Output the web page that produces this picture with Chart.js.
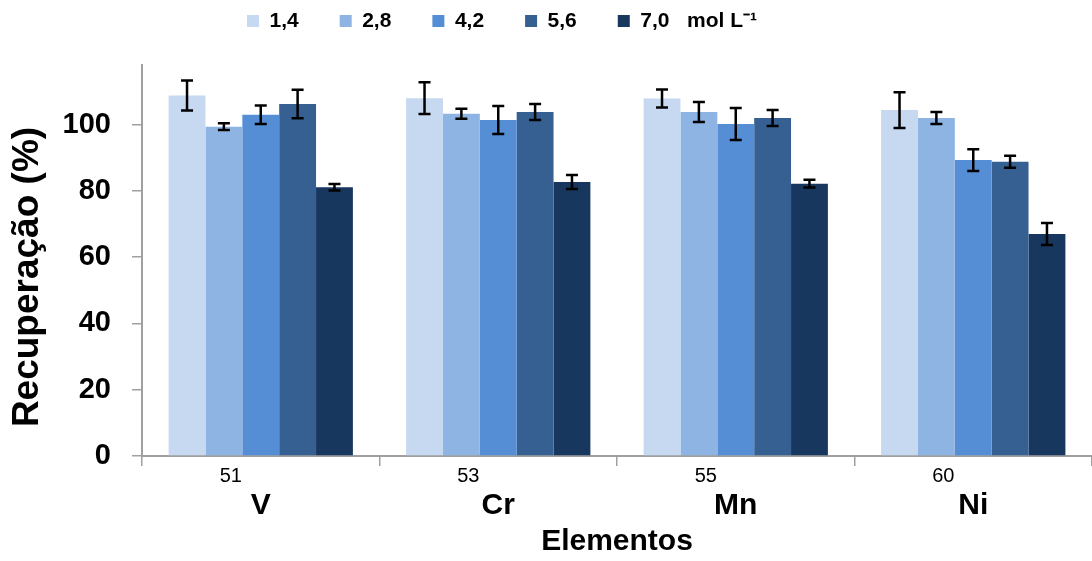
<!DOCTYPE html>
<html>
<head>
<meta charset="utf-8">
<script src="https://cdn.jsdelivr.net/npm/chart.js@4.4.0/dist/chart.umd.min.js"></script>
<style>
  html, body { margin: 0; padding: 0; background: #fff; }
  #wrap { width: 1092px; height: 561px; }
</style>
</head>
<body>
<div id="wrap"><canvas id="myChart"></canvas></div>
<script>
const elements = ["V", "Cr", "Mn", "Ni"];
const massNumbers = ["51", "53", "55", "60"];
const concentrations = ["1,4", "2,8", "4,2", "5,6", "7,0   mol L⁻¹"];
const yTicks = [0, 20, 40, 60, 80, 100];

// recovery (%) and error bar half-height per concentration
const rec14 = [108.8, 108.0, 107.9, 104.4];
const err14 = [4.5, 4.8, 2.7, 5.4];
const rec28 = [99.4, 103.3, 103.8, 102.0];
const err28 = [1.0, 1.5, 3.0, 1.8];
const rec42 = [103.0, 101.4, 100.2, 89.3];
const err42 = [2.8, 4.2, 4.8, 3.3];
const rec56 = [106.2, 103.8, 102.0, 88.8];
const err56 = [4.3, 2.4, 2.4, 1.8];
const rec70 = [81.1, 82.7, 82.2, 67.0];
const err70 = [1.0, 2.1, 1.2, 3.3];

const colors = ["#C6D9F1", "#8EB4E3", "#558ED5", "#366092", "#17375E"];
const axisColor = "#a0a0a0";

Chart.defaults.font.family = "'Liberation Sans', Arial, sans-serif";
Chart.defaults.color = "#000";

const errorBars = {
  id: "errorBars",
  afterDatasetsDraw(chart) {
    const ctx = chart.ctx;
    const y = chart.scales.y;
    ctx.save();
    ctx.strokeStyle = "#000";
    ctx.lineWidth = 2.5;
    chart.data.datasets.forEach((ds, i) => {
      chart.getDatasetMeta(i).data.forEach((bar, j) => {
        const top = y.getPixelForValue(ds.data[j] + ds.errors[j]);
        const bot = y.getPixelForValue(ds.data[j] - ds.errors[j]);
        ctx.beginPath();
        ctx.moveTo(bar.x, top);
        ctx.lineTo(bar.x, bot);
        ctx.moveTo(bar.x - 6, top);
        ctx.lineTo(bar.x + 6, top);
        ctx.moveTo(bar.x - 6, bot);
        ctx.lineTo(bar.x + 6, bot);
        ctx.stroke();
      });
    });
    ctx.restore();
  },
};

const extraText = {
  id: "extraText",
  afterDraw(chart) {
    const ctx = chart.ctx;
    const x = chart.scales.x;
    ctx.save();
    ctx.fillStyle = "#000";
    ctx.textAlign = "center";
    ctx.textBaseline = "middle";
    elements.forEach((el, i) => {
      const cx = x.getPixelForValue(i);
      ctx.font = "20px 'Liberation Sans', Arial, sans-serif";
      ctx.fillText(massNumbers[i], cx - 30, 476);
      ctx.font = "bold 30px 'Liberation Sans', Arial, sans-serif";
      ctx.fillText(el, cx, 506);
    });
    // y axis title
    ctx.translate(28, 277);
    ctx.rotate(-Math.PI / 2);
    ctx.font = "bold 37px 'Liberation Sans', Arial, sans-serif";
    ctx.fillText("Recuperação (%)", 0, 0);
    ctx.restore();
  },
};

const legendPlace = {
  id: "legendPlace",
  beforeInit(chart) {
    const fit = chart.legend.fit;
    chart.legend.fit = function () {
      fit.call(this);
      this.height = 65;
    };
  },
  afterLayout(chart) {
    chart.legend.left = 247 - 41;
    chart.legend.top = 21 - 10.5 - 41;
  },
};

const ctx = document.getElementById("myChart").getContext("2d");
const myChart = new Chart(ctx, {
  type: "bar",
  data: {
    labels: elements,
    datasets: [
      { label: concentrations[0], data: rec14, errors: err14, backgroundColor: colors[0] },
      { label: concentrations[1], data: rec28, errors: err28, backgroundColor: colors[1] },
      { label: concentrations[2], data: rec42, errors: err42, backgroundColor: colors[2] },
      { label: concentrations[3], data: rec56, errors: err56, backgroundColor: colors[3] },
      { label: concentrations[4], data: rec70, errors: err70, backgroundColor: colors[4] },
    ],
  },
  options: {
    responsive: true,
    maintainAspectRatio: false,
    animation: false,
    layout: { padding: 0 },
    datasets: {
      bar: { categoryPercentage: 0.776, barPercentage: 1.0, borderWidth: 0 },
    },
    plugins: {
      legend: {
        position: "top",
        align: "start",
        labels: {
          boxWidth: 12,
          boxHeight: 12,
          padding: 41,
          color: "#000",
          font: { size: 21, weight: "bold" },
        },
      },
      tooltip: { enabled: false },
    },
    scales: {
      x: {
        grid: {
          display: true,
          offset: true,
          drawOnChartArea: false,
          drawTicks: true,
          tickLength: 10,
          color: axisColor,
          lineWidth: 1.5,
        },
        border: { display: true, color: axisColor, width: 2 },
        ticks: { display: false },
        title: {
          display: true,
          text: "Elementos",
          color: "#000",
          font: { size: 30, weight: "bold" },
          padding: { top: 50, bottom: 1 },
        },
        afterFit(scale) {
          scale.height = 105;
        },
      },
      y: {
        min: 0,
        max: 118,
        afterBuildTicks(scale) {
          scale.ticks = yTicks.map((v) => ({ value: v }));
        },
        grid: {
          display: true,
          drawOnChartArea: false,
          drawTicks: true,
          tickLength: 10,
          color: axisColor,
          lineWidth: 1.5,
        },
        border: { display: true, color: axisColor, width: 2 },
        ticks: {
          color: "#000",
          padding: 21,
          font: { size: 29, weight: "bold" },
        },
        afterFit(scale) {
          scale.width = 142;
        },
      },
    },
  },
  plugins: [errorBars, extraText, legendPlace],
});
</script>
</body>
</html>
